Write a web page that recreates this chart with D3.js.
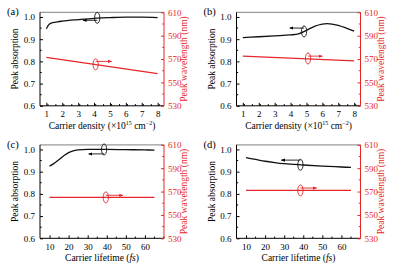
<!DOCTYPE html>
<html>
<head>
<meta charset="utf-8">
<script src="https://cdn.jsdelivr.net/npm/d3@7"></script>
<style>
  body { margin: 0; background: #fff; }
</style>
</head>
<body>
<div id="chart"></div>
<script>
// values
const densX = [1, 1.1, 1.2, 1.4, 1.7, 2, 3, 4, 5, 6, 7, 8];
const absA = [0.947, 0.96, 0.968, 0.974, 0.978, 0.981, 0.988, 0.994, 0.997, 0.999, 0.999, 0.997];
const densX2 = [1, 2, 3, 4, 4.5, 5, 5.5, 6, 6.3, 7, 7.5, 8];
const absB = [0.907, 0.911, 0.915, 0.919, 0.924, 0.94, 0.958, 0.968, 0.970, 0.962, 0.95, 0.936];
const wlDensX = [1, 8];
const wlA = [571.5, 557.5];
const wlB = [572.5, 568.5];

const lifeX = [10, 12, 14, 16, 18, 20, 22, 25, 30, 40, 50, 60, 65];
const absC = [0.925, 0.935, 0.948, 0.962, 0.975, 0.986, 0.993, 0.998, 1.0, 1.0, 0.999, 0.998, 0.997];
const lifeX2 = [10, 15, 20, 25, 30, 40, 50, 60, 65];
const absD = [0.963, 0.955, 0.947, 0.941, 0.936, 0.930, 0.925, 0.921, 0.919];
const wlLifeX = [10, 65];
const wlC = [565, 565];
const wlD = [571, 571];

const leftTicks = [0.6, 0.7, 0.8, 0.9, 1.0];
const rightTicks = [530, 550, 570, 590, 610];
const densTicks = [1, 2, 3, 4, 5, 6, 7, 8];
const lifeTicks = [10, 20, 30, 40, 50, 60];

// annotation marks: [x, absorption, arrow end x, arrow y] and [x, wavelength, arrow end x, arrow y]
const panels = [
  { tag: "(a)", ox: 0, oy: 0, xDom: [0.6, 8.4], xTicks: densTicks, xMinor: 0.5, kind: "dens",
    black: [densX, absA], red: [wlDensX, wlA],
    bAnn: [4.2, 0.996, 3.3, 0.985], rAnn: [4.1, 565.5, 5.1, 568] },
  { tag: "(b)", ox: 196.5, oy: 0, xDom: [0.6, 8.4], xTicks: densTicks, xMinor: 0.5, kind: "dens",
    black: [densX2, absB], red: [wlDensX, wlB],
    bAnn: [4.85, 0.935, 3.95, 0.95], rAnn: [5.1, 570.5, 6.0, 572.5] },
  { tag: "(c)", ox: 0, oy: 132.5, xDom: [5, 70], xTicks: lifeTicks, xMinor: 5, kind: "life",
    black: [lifeX, absC], red: [wlLifeX, wlC],
    bAnn: [38.6, 1.0, 30.5, 0.98], rAnn: [39.5, 565, 48.5, 566.8] },
  { tag: "(d)", ox: 196.5, oy: 132.5, xDom: [5, 70], xTicks: lifeTicks, xMinor: 5, kind: "life",
    black: [lifeX2, absD], red: [wlLifeX, wlD],
    bAnn: [38.5, 0.931, 28.5, 0.952], rAnn: [38.5, 571, 47, 573] }
];

const W = 397, H = 263;
const red = "#e5262a";
const font = "Liberation Serif";
const box = { left: 40, right: 164, top: 12.3, bottom: 105.8 };

const svg = d3.select("#chart").append("svg").attr("width", W).attr("height", H)
  .attr("font-family", font);
const defs = svg.append("defs");
[["arrK", "#000"], ["arrR", red]].forEach(([id, c]) => {
  defs.append("marker").attr("id", id).attr("viewBox", "0 0 10 10")
    .attr("refX", 9).attr("refY", 5).attr("markerWidth", 4.5).attr("markerHeight", 4.5)
    .attr("orient", "auto")
    .append("path").attr("d", "M0,1L10,5L0,9z").attr("fill", c);
});

panels.forEach((p) => {
  const g = svg.append("g").attr("transform", `translate(${p.ox},${p.oy})`).attr("font-family", font);
  const x = d3.scaleLinear().domain(p.xDom).range([box.left, box.right]);
  const yL = d3.scaleLinear().domain([0.6, 1.021]).range([box.bottom, box.top]);
  const yR = d3.scaleLinear().domain([530, 610]).range([box.bottom, box.top]);

  // frame top
  g.append("line").attr("x1", box.left).attr("x2", box.right).attr("y1", box.top).attr("y2", box.top)
    .attr("stroke", "#9a9a9a").attr("stroke-width", 1.3);

  // bottom axis (ticks inward)
  const minorX = d3.range(p.xDom[0], p.xDom[1] + 1e-9, p.xMinor).filter((v) => !p.xTicks.includes(v) && v > p.xDom[0]);
  const ax = g.append("g").attr("transform", `translate(0,${box.bottom})`)
    .call(d3.axisBottom(x).tickValues(p.xTicks).tickSize(-3).tickPadding(5).tickFormat(d3.format("d")));
  ax.selectAll("line").data(minorX, (d) => d).enter().append("line")
    .attr("x1", (d) => x(d)).attr("x2", (d) => x(d)).attr("y1", 0).attr("y2", -1.7).attr("stroke", "#000");
  ax.select(".domain").attr("d", `M${box.left},0H${box.right}`);

  // left axis
  const al = g.append("g").attr("transform", `translate(${box.left},0)`)
    .call(d3.axisLeft(yL).tickValues(leftTicks).tickSize(-3).tickPadding(5).tickFormat(d3.format(".1f")));
  al.select(".domain").attr("d", `M0,${box.top}V${box.bottom}`);
  [0.65, 0.75, 0.85, 0.95].forEach((v) => {
    al.append("line").attr("x1", 0).attr("x2", 1.7).attr("y1", yL(v)).attr("y2", yL(v)).attr("stroke", "#000");
  });

  // right axis (red)
  const ar = g.append("g").attr("transform", `translate(${box.right},0)`)
    .call(d3.axisRight(yR).tickValues(rightTicks).tickSize(-3).tickPadding(4));
  ar.select(".domain").attr("d", `M0,${box.top}V${box.bottom}`).attr("stroke", red);
  ar.selectAll("line").attr("stroke", red);
  ar.selectAll("text").attr("fill", red);
  [540, 560, 580, 600].forEach((v) => {
    ar.append("line").attr("x1", 0).attr("x2", -1.7).attr("y1", yR(v)).attr("y2", yR(v)).attr("stroke", red);
  });

  [ax, al, ar].forEach((a) => a.attr("font-family", font).attr("font-size", 9));

  // curves
  const lineL = d3.line().x((d) => x(d[0])).y((d) => yL(d[1])).curve(d3.curveMonotoneX);
  const lineR = d3.line().x((d) => x(d[0])).y((d) => yR(d[1]));
  g.append("path").attr("d", lineL(d3.zip(p.black[0], p.black[1])))
    .attr("fill", "none").attr("stroke", "#111").attr("stroke-width", 1.3);
  g.append("path").attr("d", lineR(d3.zip(p.red[0], p.red[1])))
    .attr("fill", "none").attr("stroke", red).attr("stroke-width", 1.3);

  // annotations: ellipse + arrow
  const b = p.bAnn, r = p.rAnn;
  g.append("ellipse").attr("cx", x(b[0])).attr("cy", yL(b[1])).attr("rx", 2.6).attr("ry", 5.5)
    .attr("fill", "none").attr("stroke", "#111").attr("stroke-width", 0.9);
  g.append("line").attr("x1", x(b[0])).attr("y1", yL(b[3])).attr("x2", x(b[2])).attr("y2", yL(b[3]))
    .attr("stroke", "#111").attr("stroke-width", 0.9).attr("marker-end", "url(#arrK)");
  g.append("ellipse").attr("cx", x(r[0])).attr("cy", yR(r[1])).attr("rx", 2.6).attr("ry", 5.5)
    .attr("fill", "none").attr("stroke", red).attr("stroke-width", 0.9);
  g.append("line").attr("x1", x(r[0])).attr("y1", yR(r[3])).attr("x2", x(r[2])).attr("y2", yR(r[3]))
    .attr("stroke", red).attr("stroke-width", 0.9).attr("marker-end", "url(#arrR)");

  // labels
  g.append("text").attr("x", 7).attr("y", 15).attr("font-size", 10.5).text(p.tag);
  g.append("text").attr("transform", `translate(18,${(box.top + box.bottom) / 2}) rotate(-90)`)
    .attr("text-anchor", "middle").attr("font-size", 9.5).text("Peak absorption");
  g.append("text").attr("transform", `translate(187,${(box.top + box.bottom) / 2}) rotate(-90)`)
    .attr("text-anchor", "middle").attr("fill", red).attr("font-size", 9.5).text("Peak wavelength (nm)");

  const xt = g.append("text").attr("x", (box.left + box.right) / 2).attr("y", box.bottom + 23)
    .attr("text-anchor", "middle").attr("font-size", 9.5);
  if (p.kind === "dens") {
    xt.append("tspan").text("Carrier density (\u00d710");
    xt.append("tspan").attr("dy", -3.5).attr("font-size", 6).text("15");
    xt.append("tspan").attr("dy", 3.5).text(" cm");
    xt.append("tspan").attr("dy", -3.5).attr("font-size", 6).text("\u22122");
    xt.append("tspan").attr("dy", 3.5).text(")");
  } else {
    xt.append("tspan").text("Carrier lifetime (");
    xt.append("tspan").attr("font-style", "italic").text("fs");
    xt.append("tspan").text(")");
  }
});
</script>
</body>
</html>
